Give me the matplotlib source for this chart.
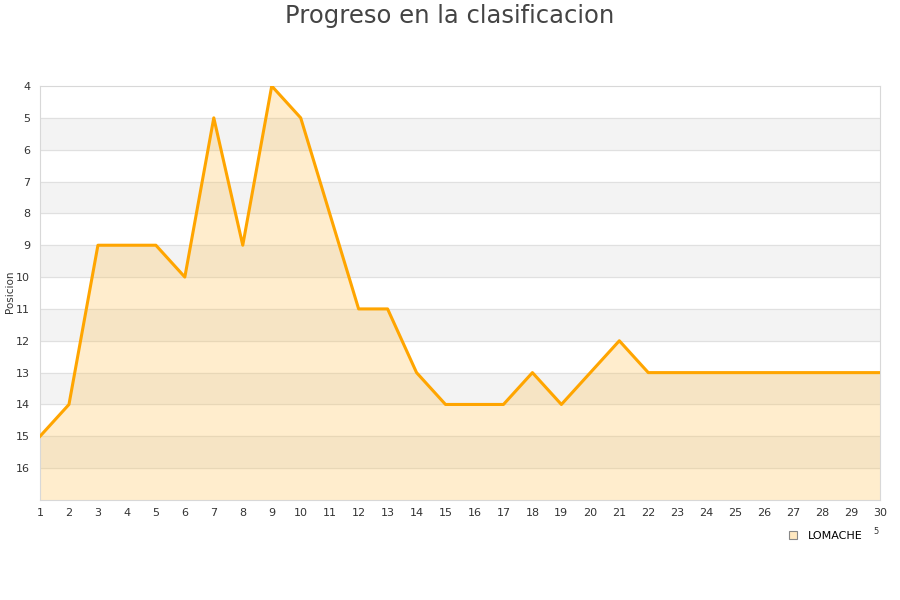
import numpy as np
import matplotlib.pyplot as plt
from matplotlib.lines import Line2D

# ========== DATOS ==========
jornadas = list(range(1, 31))
posiciones = [15, 14, 9, 9, 9, 10, 5, 9, 4, 5, 8, 11, 11, 13, 14, 14, 14, 13, 14, 13,
              12, 13, 13, 13, 13, 13, 13, 13, 13, 13]
equipo = 'LOMACHE'

fig = plt.figure(figsize=(9, 6), dpi=100)
ax = fig.add_axes([40/900, 1 - 500/600, 840/900, 414/600])

# Bandas alternas
for y0 in range(5, 17, 2):
    ax.axhspan(y0, y0 + 1, color='#f3f3f3', zorder=0)
for y in range(5, 17):
    ax.axhline(y, color='#e0e0e0', lw=0.8, zorder=1)

# Area y linea
ax.fill_between(jornadas, posiciones, 17, color='#ffc04d', alpha=0.28, lw=0, zorder=2)
ax.plot(jornadas, posiciones, color='#ffa500', lw=2.2, zorder=3)

ax.set_xlim(1, 30)
ax.set_ylim(17, 4)
ax.set_xticks(jornadas)
ax.set_yticks(range(4, 17))
ax.tick_params(length=0, labelsize=8, colors='#333333', pad=6)
ax.tick_params(axis='y', pad=7)
for s in ax.spines.values():
    s.set_color('#d8d8d8')

fig.text(10/900, 1 - 292/600, 'Posicion', rotation=90, fontsize=7.5, color='#333333',
         ha='center', va='center')
fig.text(0.5, 1 - 16/600, 'Progreso en la clasificacion', fontsize=17.5, color='#444444',
         ha='center', va='center')

handle = Line2D([], [], marker='s', ls='none', markersize=6, markerfacecolor='#ffe8c0',
                markeredgecolor='#888888', markeredgewidth=0.8)
fig.legend([handle], [equipo], loc='center right', bbox_to_anchor=(868/900, 1 - 536/600),
           frameon=False, fontsize=8, handletextpad=0.3, borderpad=0)
fig.text(876/900, 1 - 532/600, '5', fontsize=6, color='#333333', ha='center', va='center')

plt.savefig('out.png', dpi=100)
